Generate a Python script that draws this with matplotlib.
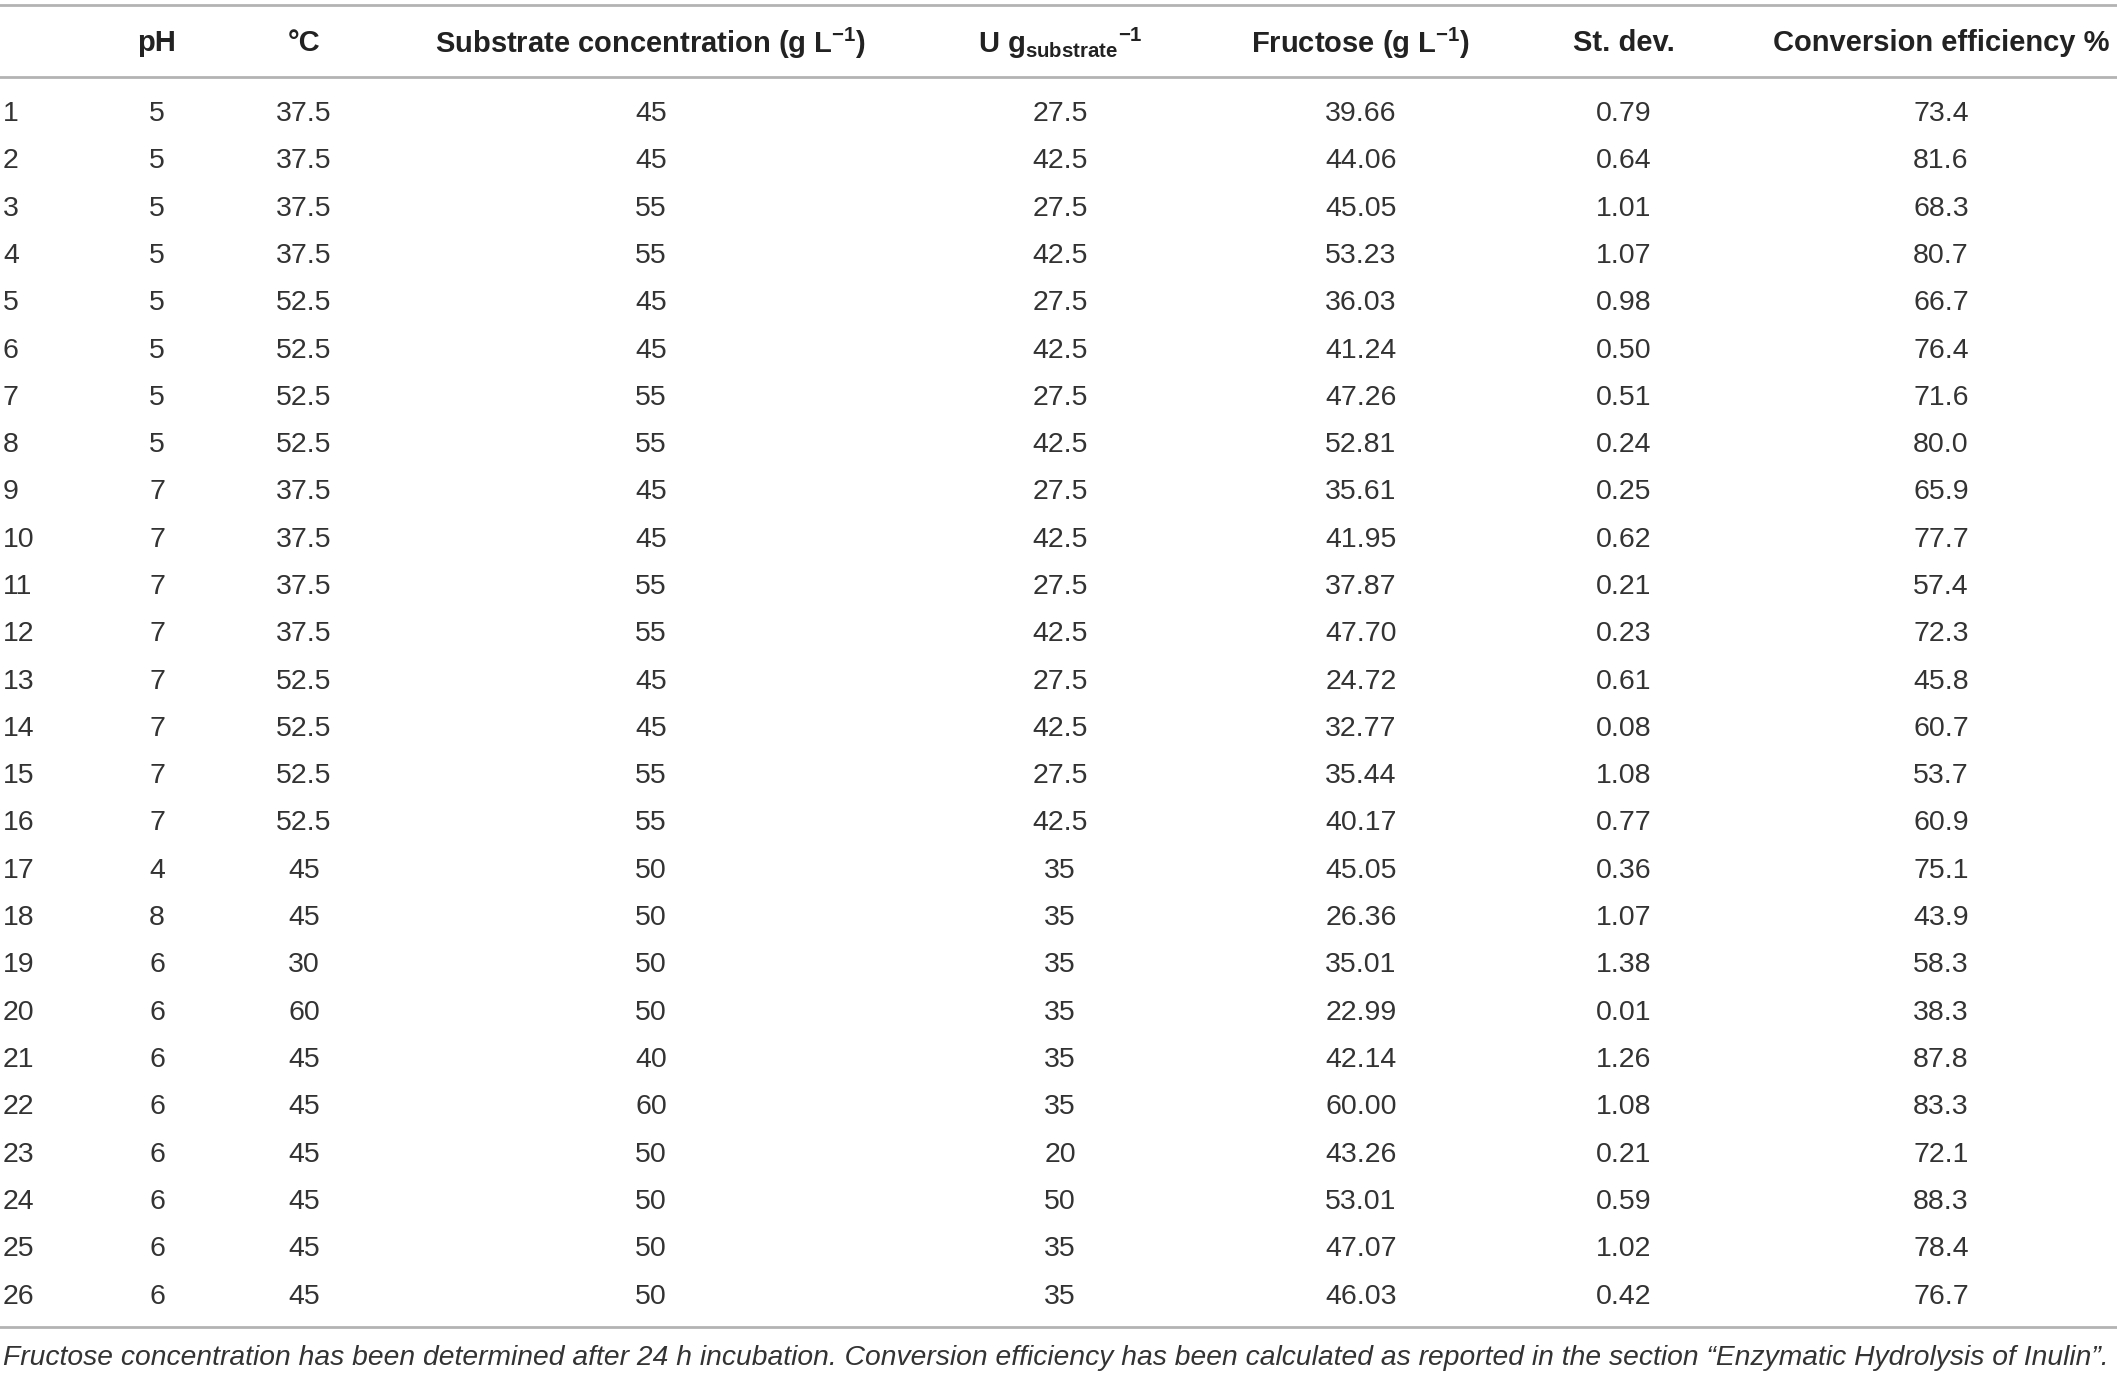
import matplotlib.pyplot as plt

plt.rcParams['font.family'] = ['Liberation Sans', 'DejaVu Sans']
plt.rcParams['mathtext.fontset'] = 'custom'
plt.rcParams['mathtext.rm'] = 'Liberation Sans:bold'
plt.rcParams['mathtext.bf'] = 'Liberation Sans:bold'
plt.rcParams['mathtext.it'] = 'Liberation Sans:bold:italic'

headers = ['', 'pH', '°C', 'Substrate concentration (g L$^{-1}$)',
           'U g$_{\\rm substrate}$$^{-1}$', 'Fructose (g L$^{-1}$)',
           'St. dev.', 'Conversion efficiency %']

run = [str(i) for i in range(1, 27)]
ph = ['5'] * 8 + ['7'] * 8 + ['4', '8', '6', '6', '6', '6', '6', '6', '6', '6']
temp = ['37.5'] * 4 + ['52.5'] * 4 + ['37.5'] * 4 + ['52.5'] * 4 + \
       ['45', '45', '30', '60', '45', '45', '45', '45', '45', '45']
substrate = ['45', '45', '55', '55'] * 4 + ['50', '50', '50', '50', '40', '60', '50', '50', '50', '50']
units = ['27.5', '42.5'] * 8 + ['35', '35', '35', '35', '35', '35', '20', '50', '35', '35']
fructose = ['39.66', '44.06', '45.05', '53.23', '36.03', '41.24', '47.26', '52.81',
            '35.61', '41.95', '37.87', '47.70', '24.72', '32.77', '35.44', '40.17',
            '45.05', '26.36', '35.01', '22.99', '42.14', '60.00', '43.26', '53.01',
            '47.07', '46.03']
stdev = ['0.79', '0.64', '1.01', '1.07', '0.98', '0.50', '0.51', '0.24',
         '0.25', '0.62', '0.21', '0.23', '0.61', '0.08', '1.08', '0.77',
         '0.36', '1.07', '1.38', '0.01', '1.26', '1.08', '0.21', '0.59',
         '1.02', '0.42']
efficiency = ['73.4', '81.6', '68.3', '80.7', '66.7', '76.4', '71.6', '80.0',
              '65.9', '77.7', '57.4', '72.3', '45.8', '60.7', '53.7', '60.9',
              '75.1', '43.9', '58.3', '38.3', '87.8', '83.3', '72.1', '88.3',
              '78.4', '76.7']
footnote = ('Fructose concentration has been determined after 24 h incubation. '
            'Conversion efficiency has been calculated as reported in the section '
            '\u201cEnzymatic Hydrolysis of Inulin\u201d.')

columns = [run, ph, temp, substrate, units, fructose, stdev, efficiency]

W, H = 2117, 1380
fig = plt.figure(figsize=(W / 100, H / 100), dpi=100)
ax = fig.add_axes([0, 0, 1, 1])
ax.set_xlim(0, W)
ax.set_ylim(H, 0)
ax.axis('off')

# layout in pixels
col_x = [3, 157, 304, 651, 1060, 1361, 1624, 1941]
header_y = 43
row0_y = 114
row_h = 47.3
rule_c = '#b3b3b3'

ax.axhline(5, color=rule_c, lw=2)
ax.axhline(77, color=rule_c, lw=2)
ax.axhline(1327, color=rule_c, lw=2)

for j, h in enumerate(headers):
    if h:
        ax.text(col_x[j], header_y, h, ha='center', va='center',
                fontsize=21, fontweight='bold', color='#222222')

for j, col in enumerate(columns):
    for i, v in enumerate(col):
        ax.text(col_x[j], row0_y + i * row_h, v,
                ha='left' if j == 0 else 'center', va='center',
                fontsize=20.5, color='#333333')

ax.text(3, 1358, footnote, ha='left', va='center', fontsize=20.3,
        style='italic', color='#333333')

fig.savefig('out.png', dpi=100)
